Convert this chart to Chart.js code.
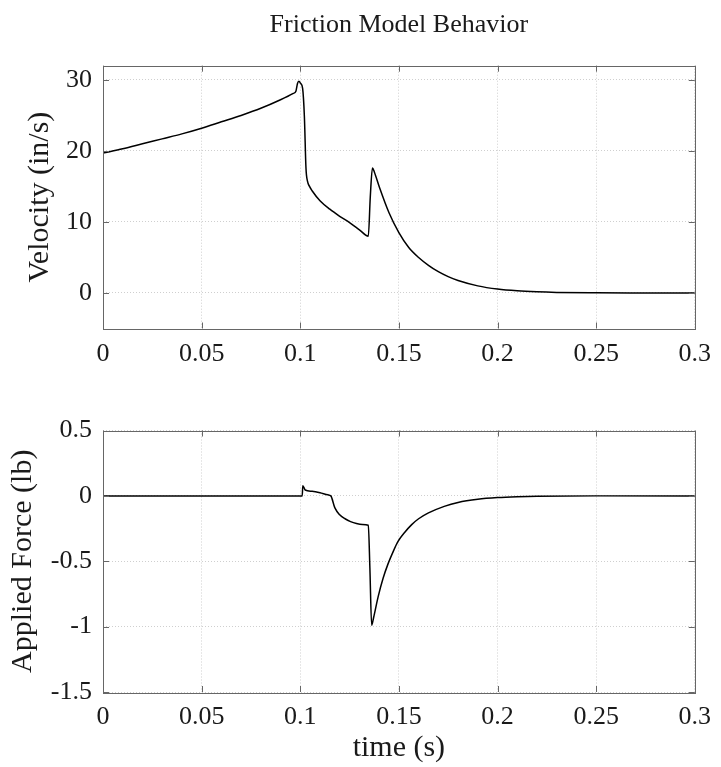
<!DOCTYPE html>
<html>
<head>
<meta charset="utf-8">
<script src="https://cdn.jsdelivr.net/npm/chart.js@4/dist/chart.umd.min.js"></script>
<style>
  html, body { margin: 0; padding: 0; background: #fff; }
  #wrap { position: relative; width: 721px; height: 767px; }
  canvas { position: absolute; left: 0; }
  #c1 { top: 0; }
  #c2 { top: 384px; }
</style>
</head>
<body>
<div id="wrap">
  <canvas id="c1" width="721" height="384"></canvas>
  <canvas id="c2" width="721" height="383"></canvas>
</div>
<script>
// ---- data ----
const titleText = "Friction Model Behavior";
const velLabel = "Velocity (in/s)";
const forceLabel = "Applied Force (lb)";
const timeLabel = "time (s)";

const xTicks = [0, 0.05, 0.1, 0.15, 0.2, 0.25, 0.3];
const xTickLabels = ["0", "0.05", "0.1", "0.15", "0.2", "0.25", "0.3"];
const velTicks = [0, 10, 20, 30];
const velTickLabels = ["0", "10", "20", "30"];
const forceTicks = [-1.5, -1, -0.5, 0, 0.5];
const forceTickLabels = ["-1.5", "-1", "-0.5", "0", "0.5"];

const velTime = [0, 0.01, 0.02, 0.03, 0.04, 0.05, 0.06, 0.07, 0.08, 0.09, 0.0965, 0.0978, 0.0986, 0.0993, 0.1002, 0.1012, 0.1021, 0.1029, 0.1037, 0.1047, 0.106, 0.11, 0.115, 0.12, 0.125, 0.13, 0.1345, 0.1355, 0.1366, 0.1376, 0.14, 0.145, 0.15, 0.155, 0.16, 0.165, 0.17, 0.175, 0.18, 0.19, 0.2, 0.21, 0.22, 0.23, 0.25, 0.27, 0.3];
const velocity = [19.7, 20.3, 21.0, 21.7, 22.4, 23.2, 24.1, 25.0, 26.0, 27.2, 28.1, 28.4, 29.5, 29.8, 29.5, 28.8, 24.8, 17.6, 15.7, 15.0, 14.4, 13.0, 11.8, 10.8, 9.9, 8.9, 8.0, 13.5, 17.6, 17.0, 15.0, 11.3, 8.5, 6.4, 5.0, 3.9, 3.0, 2.3, 1.75, 1.0, 0.55, 0.3, 0.16, 0.08, 0.02, 0.0, 0.0];

const forceTime = [0, 0.101, 0.1013, 0.1025, 0.106, 0.11, 0.114, 0.1155, 0.1175, 0.12, 0.1227, 0.1255, 0.1285, 0.1315, 0.1345, 0.1353, 0.1362, 0.1372, 0.1395, 0.142, 0.1445, 0.147, 0.1495, 0.1529, 0.1565, 0.16, 0.165, 0.173, 0.18, 0.19, 0.2, 0.21, 0.22, 0.25, 0.3];
const force = [0, 0, 0.078, 0.045, 0.035, 0.024, 0.008, 0.0, -0.09, -0.145, -0.175, -0.197, -0.212, -0.219, -0.225, -0.55, -0.99, -0.93, -0.77, -0.63, -0.52, -0.43, -0.35, -0.28, -0.22, -0.175, -0.13, -0.08, -0.05, -0.026, -0.013, -0.006, -0.002, 0, 0];

// ---- styling ----
const FONT = "'Liberation Serif', 'Times New Roman', serif";
const TXT = '#1a1a1a';
const GRID = '#cfcfcf';
const BOX = '#666666';

const boxPlugin = {
  id: 'matlabBox',
  afterDraw(chart) {
    const { ctx, chartArea: a, scales } = chart;
    ctx.save();
    ctx.strokeStyle = BOX;
    ctx.lineWidth = 1;
    ctx.setLineDash([]);
    const L = 6;
    ctx.beginPath();
    scales.x.ticks.forEach(t => {
      const px = Math.round(scales.x.getPixelForValue(t.value)) + 0.5;
      ctx.moveTo(px, a.bottom); ctx.lineTo(px, a.bottom - L);
      ctx.moveTo(px, a.top); ctx.lineTo(px, a.top + L);
    });
    scales.y.ticks.forEach(t => {
      const py = Math.round(scales.y.getPixelForValue(t.value)) + 0.5;
      ctx.moveTo(a.left, py); ctx.lineTo(a.left + L, py);
      ctx.moveTo(a.right, py); ctx.lineTo(a.right - L, py);
    });
    ctx.stroke();
    ctx.strokeRect(Math.round(a.left) + 0.5, Math.round(a.top) + 0.5,
                   Math.round(a.right - a.left), Math.round(a.bottom - a.top));
    ctx.restore();
  }
};

function toPoints(xs, ys) { return xs.map((x, i) => ({ x: x, y: ys[i] })); }

function makeChart(canvasId, cfg) {
  return new Chart(document.getElementById(canvasId), {
    type: 'line',
    data: {
      datasets: [{
        data: toPoints(cfg.xs, cfg.ys),
        borderColor: '#000',
        borderWidth: 1.5,
        pointRadius: 0,
        cubicInterpolationMode: 'monotone',
        fill: false
      }]
    },
    options: {
      responsive: false,
      animation: false,
      layout: { padding: { left: 0, right: 23, top: cfg.padTop, bottom: 0 } },
      plugins: {
        legend: { display: false },
        tooltip: { enabled: false },
        title: cfg.title ? {
          display: true,
          text: cfg.title,
          fullSize: false,
          color: TXT,
          font: { family: FONT, size: 26, weight: 'normal' },
          padding: { top: 10, bottom: 24.5 }
        } : { display: false }
      },
      scales: {
        x: {
          type: 'linear',
          min: 0, max: 0.3,
          afterBuildTicks: ax => { ax.ticks = xTicks.map(v => ({ value: v })); },
          afterFit: ax => { ax.height = cfg.xHeight; },
          ticks: {
            autoSkip: false, maxRotation: 0, minRotation: 0,
            padding: 10, color: TXT,
            font: { family: FONT, size: 26 },
            callback: (v, i) => xTickLabels[i]
          },
          grid: { color: GRID, lineWidth: 1, drawTicks: false },
          border: { display: false, dash: [1, 2] },
          title: cfg.xTitle ? {
            display: true, text: cfg.xTitle, color: TXT,
            font: { family: FONT, size: 30 },
            padding: { top: 0, bottom: 1 }
          } : { display: false }
        },
        y: {
          type: 'linear',
          min: cfg.ymin, max: cfg.ymax,
          afterBuildTicks: ax => { ax.ticks = cfg.yTicks.map(v => ({ value: v })); },
          afterFit: ax => { ax.width = 103; },
          ticks: {
            autoSkip: false, padding: 11, color: TXT,
            font: { family: FONT, size: 26 },
            callback: (v, i) => cfg.yTickLabels[i]
          },
          grid: { color: GRID, lineWidth: 1, drawTicks: false },
          border: { display: false, dash: [1, 2] },
          title: {
            display: true, text: cfg.yTitle, color: TXT,
            font: { family: FONT, size: 30 },
            padding: { top: cfg.yTitlePad, bottom: 0 }
          }
        }
      }
    },
    plugins: [boxPlugin]
  });
}

makeChart('c1', {
  xs: velTime, ys: velocity,
  title: titleText,
  padTop: 0,
  xHeight: 55.5,
  ymin: -5, ymax: 32,
  yTicks: velTicks, yTickLabels: velTickLabels,
  yTitle: velLabel, yTitlePad: 22,
  xTitle: null
});

makeChart('c2', {
  xs: forceTime, ys: force,
  title: null,
  padTop: 46.5,
  xHeight: 75,
  ymin: -1.5, ymax: 0.5,
  yTicks: forceTicks, yTickLabels: forceTickLabels,
  yTitle: forceLabel, yTitlePad: 5,
  xTitle: timeLabel
});
</script>
</body>
</html>
